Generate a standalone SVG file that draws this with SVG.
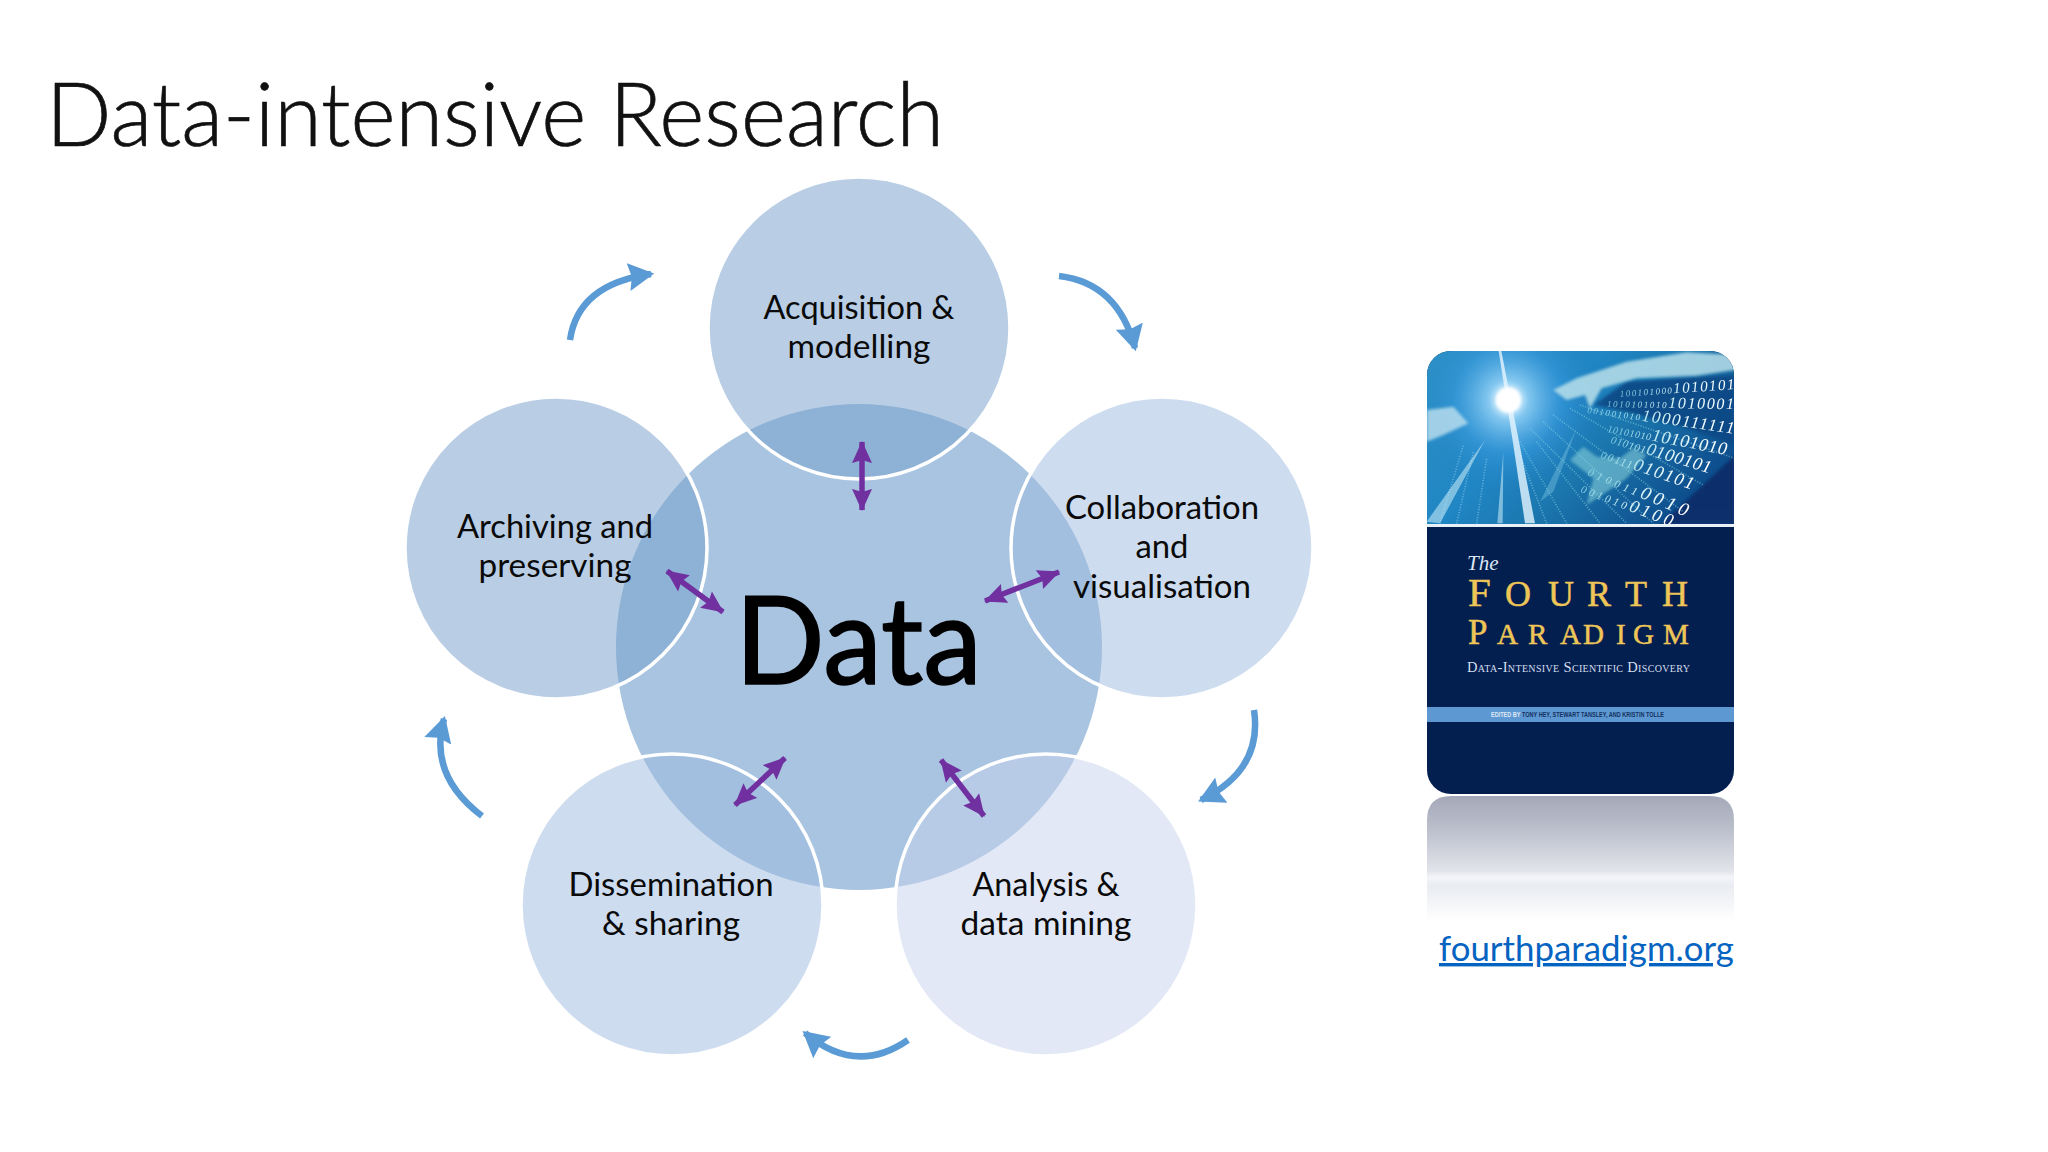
<svg xmlns="http://www.w3.org/2000/svg" width="2048" height="1152" viewBox="0 0 2048 1152">
<style>
.lbl{font-family:Lato,"Open Sans","Liberation Sans",sans-serif;font-size:32px;fill:#0a0a0a;text-anchor:middle}
.sat{stroke:#fff;stroke-width:3.5;fill-opacity:.5}
.blue{fill:none;stroke:#5b9bd5;stroke-width:6.5;marker-end:url(#bh)}
.pur{fill:none;stroke:#7030a0;stroke-width:5.5;marker-start:url(#ph);marker-end:url(#ph)}
.cov{font-family:"Liberation Serif",serif;fill:#eec658;stroke:#eec658;stroke-width:.5}
.dig{font-family:"Liberation Serif",serif;fill:url(#dg);font-style:italic}
</style>
<defs>
<marker id="bh" markerUnits="userSpaceOnUse" markerWidth="28" markerHeight="28" refX="21" refY="13" orient="auto" viewBox="0 0 26 26"><path d="M0 0L24 13L0 26L3 13Z" fill="#5b9bd5"/></marker>
<marker id="ph" markerUnits="userSpaceOnUse" markerWidth="24" markerHeight="20" refX="20" refY="9.5" orient="auto-start-reverse" viewBox="0 0 22 19"><path d="M0 0L21 9.5L0 19L3 9.5Z" fill="#7030a0"/></marker>
<clipPath id="bk"><rect x="1427" y="351" width="307" height="443" rx="24"/></clipPath>
<clipPath id="rf"><path d="M1427 920V820Q1427 796 1451 796H1710Q1734 796 1734 820V920Z"/></clipPath>
<linearGradient id="sky" x1="0" y1="0" x2="1" y2=".55"><stop offset="0" stop-color="#2f93c6"/><stop offset=".45" stop-color="#2086c4"/><stop offset=".68" stop-color="#1b76ad"/><stop offset="1" stop-color="#0e4f8e"/></linearGradient>
<radialGradient id="glow" gradientUnits="userSpaceOnUse" cx="265" cy="165" r="300"><stop offset="0" stop-color="#fff"/><stop offset=".08" stop-color="#e8f7ff"/><stop offset=".2" stop-color="#8fcff5" stop-opacity=".9"/><stop offset=".55" stop-color="#3a9be0" stop-opacity=".5"/><stop offset="1" stop-color="#1a76b8" stop-opacity="0"/></radialGradient>
<linearGradient id="rg" x1="0" y1="0" x2="0" y2="1"><stop offset="0" stop-color="#a3a8b8"/><stop offset=".3" stop-color="#bfc3cf"/><stop offset=".6" stop-color="#e2e4ea"/><stop offset=".65" stop-color="#f3f5f9"/><stop offset=".72" stop-color="#e9ecf1"/><stop offset="1" stop-color="#fff"/></linearGradient>
<linearGradient id="dg" x1="0" y1="0" x2="1" y2="0"><stop offset="0" stop-color="#8fdcea" stop-opacity=".75"/><stop offset=".55" stop-color="#d8f3f8"/><stop offset="1" stop-color="#fff"/></linearGradient>
<filter id="b1" x="-10%" y="-10%" width="120%" height="120%"><feGaussianBlur stdDeviation="5"/></filter>
<filter id="b2" x="-10%" y="-10%" width="120%" height="120%"><feGaussianBlur stdDeviation="2"/></filter>
<filter id="b3" x="-5%" y="-20%" width="110%" height="140%"><feGaussianBlur stdDeviation=".35"/></filter>
</defs>
<rect width="2048" height="1152" fill="#fff"/>
<text id="title" x="46" y="146" font-family="Lato,'Open Sans',sans-serif" font-weight="300" font-size="88" fill="#111" stroke="#111" stroke-width=".7" textLength="898" lengthAdjust="spacingAndGlyphs">Data-intensive Research</text>

<g id="node-data"><circle cx="859" cy="647" r="243" fill="#a9c4e0"/><text x="735" y="684" font-family="Lato,'Open Sans',sans-serif" font-size="122" fill="#000" stroke="#000" stroke-width="1.6" textLength="247" lengthAdjust="spacingAndGlyphs">Data</text></g>
<g id="node-acquisition"><circle class="sat" cx="859" cy="328" r="151" fill="#739dcb"/><text class="lbl" x="859" y="319" textLength="191" lengthAdjust="spacingAndGlyphs">Acquisition &amp;</text><text class="lbl" x="859" y="358" textLength="143" lengthAdjust="spacingAndGlyphs">modelling</text></g>
<g id="node-collaboration"><circle class="sat" cx="1162" cy="548" r="151" fill="#9bb9df"/><text class="lbl" x="1162" y="519" textLength="194" lengthAdjust="spacingAndGlyphs">Collaboration</text><text class="lbl" x="1162" y="558" textLength="53" lengthAdjust="spacingAndGlyphs">and</text><text class="lbl" x="1162" y="598" textLength="178" lengthAdjust="spacingAndGlyphs">visualisation</text></g>
<g id="node-analysis"><circle class="sat" cx="1046" cy="905" r="151" fill="#c5d1eb"/><text class="lbl" x="1046" y="896" textLength="147" lengthAdjust="spacingAndGlyphs">Analysis &amp;</text><text class="lbl" x="1046" y="935" textLength="171" lengthAdjust="spacingAndGlyphs">data mining</text></g>
<g id="node-dissemination"><circle class="sat" cx="672" cy="905" r="151" fill="#9bb9df"/><text class="lbl" x="671" y="896" textLength="205" lengthAdjust="spacingAndGlyphs">Dissemination</text><text class="lbl" x="671" y="935" textLength="138" lengthAdjust="spacingAndGlyphs">&amp; sharing</text></g>
<g id="node-archiving"><circle class="sat" cx="556" cy="548" r="151" fill="#739dcb"/><text class="lbl" x="555" y="538" textLength="196" lengthAdjust="spacingAndGlyphs">Archiving and</text><text class="lbl" x="555" y="577" textLength="153" lengthAdjust="spacingAndGlyphs">preserving</text></g>

<g id="connectors">
<path class="blue" d="M570 340Q578 284 651 274"/>
<path class="blue" d="M1059 276Q1118 283 1135 348"/>
<path class="blue" d="M1254 710Q1263 770 1201 800"/>
<path class="blue" d="M908 1040Q856 1076 805 1033"/>
<path class="blue" d="M482 816Q428 775 444 719"/>
<path class="pur" d="M862 442V510"/>
<path class="pur" d="M667 571L723 612"/>
<path class="pur" d="M1059 572L985 601"/>
<path class="pur" d="M785 758L735 805"/>
<path class="pur" d="M941 760L984 816"/>
</g>

<g id="book">
<g clip-path="url(#bk)">
<rect x="1427" y="351" width="307" height="443" fill="#031f50"/>
<g transform="translate(1420 345) scale(.33333)">
<rect x="20" y="15" width="925" height="525" fill="url(#sky)"/>
<path d="M520 180L620 110L945 90V300L800 250L620 200Z" fill="#0d4a86" opacity=".9" filter="url(#b1)"/>
<path d="M720 540L945 330V540Z" fill="#0b2f6a" opacity=".95" filter="url(#b1)"/>
<rect x="20" y="15" width="925" height="525" fill="url(#glow)"/>
<g stroke="#8ddbe6" stroke-width="5" stroke-dasharray="3 5" opacity=".55" fill="none" filter="url(#b2)">
<path d="M330 250L620 535M370 230L700 535M400 210L790 500M350 290L540 535M300 290L440 535M450 190L850 420M480 180L945 340"/>
<path d="M60 535L130 300M110 535L160 320M170 535L200 340M380 535L300 330" stroke="#9ed8f0"/>
</g>
<path d="M400 135L470 100L620 50L800 22L945 30V75L830 92L650 100L545 130L510 190L495 150L440 165Z" fill="#b9e0ea" opacity=".85" filter="url(#b1)"/>
<path d="M20 195L100 185L145 235L70 270L20 290Z" fill="#c8e6f2" opacity=".75" filter="url(#b1)"/>
<path d="M450 345L490 305L530 335L600 340L640 310L680 330L620 400L560 440L500 480L520 400Z" fill="#8cd6dc" opacity=".55" filter="url(#b1)"/>
<path d="M236 18L244 18L345 535L315 535L280 300Z" fill="#e6f6ff" opacity=".8" filter="url(#b2)"/>
<path d="M20 530L195 285L60 535Z" fill="#bfe6f5" opacity=".6" filter="url(#b2)"/>
<path d="M232 535L250 320L248 535Z" fill="#bfe6f5" opacity=".6" filter="url(#b2)"/>
<path d="M360 470L470 250L400 440Z" fill="#7fc8e4" opacity=".4" filter="url(#b2)"/>
<circle cx="265" cy="165" r="38" fill="#fff" filter="url(#b1)"/>
</g>
<g filter="url(#b3)">
<text class="dig" transform="translate(1620 397) rotate(-4)" font-size="10" textLength="115"><tspan font-size="9">100101000</tspan><tspan font-size="15">1010101</tspan></text>
<text class="dig" transform="translate(1607 407) rotate(1)" font-size="10" textLength="127"><tspan font-size="9">1010101010</tspan><tspan font-size="16">1010001</tspan></text>
<text class="dig" transform="translate(1587 413) rotate(8)" font-size="10" textLength="148"><tspan font-size="9">001001010</tspan><tspan font-size="17">1000111111</tspan></text>
<text class="dig" transform="translate(1607 432) rotate(11)" font-size="10" textLength="121"><tspan font-size="10">10101010</tspan><tspan font-size="18">10101010</tspan></text>
<text class="dig" transform="translate(1610 443) rotate(17)" font-size="10" textLength="104"><tspan font-size="11">010101</tspan><tspan font-size="18">0100101</tspan></text>
<text class="dig" transform="translate(1600 458) rotate(19)" font-size="10" textLength="97"><tspan font-size="11">00111</tspan><tspan font-size="18">010101</tspan></text>
<text class="dig" transform="translate(1587 475) rotate(23)" font-size="10" textLength="107"><tspan font-size="11">010011</tspan><tspan font-size="19">0010</tspan></text>
<text class="dig" transform="translate(1580 492) rotate(21)" font-size="10" textLength="97"><tspan font-size="11">001010</tspan><tspan font-size="18">0100</tspan></text>
</g>
<rect x="1427" y="524" width="307" height="3" fill="#e9f1f6"/>
<rect x="1427" y="707" width="307" height="15" fill="#5e98d2"/>
</g>
<text x="1467" y="570" font-family="'Liberation Serif',serif" font-size="21" font-style="italic" fill="#dce6f4">The</text>
<text class="cov" y="606" font-size="36"><tspan x="1468" font-size="41">F</tspan><tspan x="1505">O</tspan><tspan x="1548">U</tspan><tspan x="1587">R</tspan><tspan x="1625">T</tspan><tspan x="1662">H</tspan></text>
<text class="cov" y="644" font-size="29"><tspan x="1468" font-size="35">P</tspan><tspan x="1497">A</tspan><tspan x="1528">R</tspan><tspan x="1560">A</tspan><tspan x="1583">D</tspan><tspan x="1616">I</tspan><tspan x="1633">G</tspan><tspan x="1663">M</tspan></text>
<text x="1467" y="672" font-family="'Liberation Serif',serif" font-size="14.5" fill="#d5dfee" font-variant="small-caps" textLength="223" lengthAdjust="spacing">Data-Intensive Scientific Discovery</text>
<text y="717" font-family="'Liberation Sans',sans-serif" font-size="7.5" font-weight="700" x="1491" textLength="173" lengthAdjust="spacingAndGlyphs" fill="#12305f"><tspan fill="#dfe9f6">EDITED BY</tspan> TONY HEY, STEWART TANSLEY, AND KRISTIN TOLLE</text>
<rect x="1427" y="796" width="307" height="125" fill="url(#rg)" clip-path="url(#rf)"/>
</g>

<text id="link" x="1439" y="961" font-family="Lato,'Open Sans',sans-serif" font-size="34" fill="#0563c1" text-decoration="underline" textLength="295" lengthAdjust="spacingAndGlyphs">fourthparadigm.org</text>
</svg>
